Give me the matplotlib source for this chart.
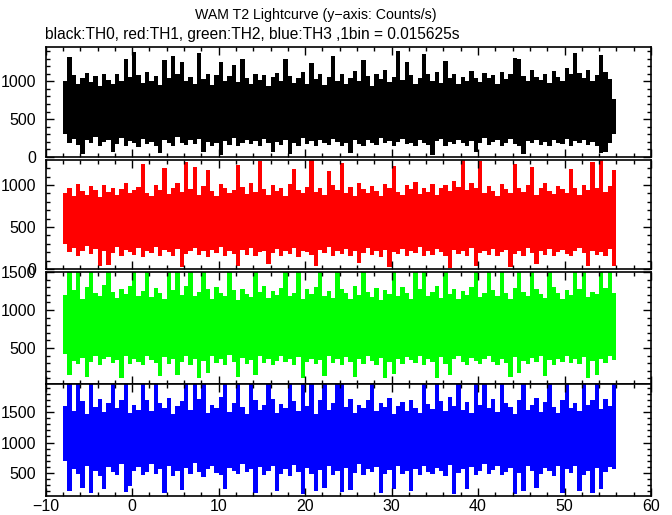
import numpy as np
import matplotlib
matplotlib.use('Agg')
import matplotlib.pyplot as plt
from matplotlib.ticker import MultipleLocator

# time axis: 0.5 s blocks from -8 s to 56 s (envelope of the 1/64 s bins)
t_start = -8.0
t_step = 0.5

# TH0 (black) upper / lower envelope, counts/s
hi_th0 = [1000, 1320, 1080, 960, 1050, 1110, 990, 1070, 940, 1100,
          1020, 960, 1090, 1000, 1300, 1060, 1390, 1080, 980, 1120,
          1010, 1070, 950, 1280, 1040, 1330, 1090, 1250, 1000, 1060,
          970, 1380, 1030, 1100, 950, 1080, 1260, 1010, 1070, 1220,
          990, 1300, 1040, 960, 1100, 1020, 1080, 940, 1060, 1110,
          1000, 1290, 1070, 980, 1040, 1120, 960, 1240, 1030, 1090,
          950, 1060, 1330, 1010, 1100, 970, 1050, 1130, 1000, 1280,
          1070, 940, 1090, 1030, 1150, 990, 1060, 1400, 1020, 1250,
          1080, 960, 1040, 1360, 1090, 1010, 1120, 980, 1270, 1040,
          1100, 970, 1060, 1010, 1130, 1050, 990, 1110, 1040, 1080,
          960, 1120, 1030, 1090, 1310, 1290, 1070, 1000, 1150, 1060,
          1020, 1100, 980, 1140, 1060, 1010, 1170, 1090, 1380, 1110,
          1040, 1150, 1000, 1080, 1350, 1120, 1030, 760]
lo_th0 = [310, 190, 240, 160, 40, 220, 180, 260, 150, 200,
          230, 60, 170, 250, 140, 210, 190, 130, 240, 170,
          200, 150, 50, 230, 180, 140, 260, 190, 160, 220,
          170, 240, 70, 200, 150, 180, 30, 210, 160, 250,
          140, 190, 230, 170, 210, 150, 240, 180, 60, 200,
          160, 220, 40, 190, 150, 250, 170, 210, 140, 230,
          180, 160, 240, 200, 150, 190, 50, 220, 170, 140,
          230, 190, 160, 250, 180, 210, 150, 200, 240, 170,
          190, 140, 220, 180, 160, 30, 210, 240, 150, 200,
          170, 230, 190, 140, 210, 60, 180, 250, 160, 200,
          220, 150, 190, 240, 170, 140, 40, 210, 180, 230,
          160, 200, 150, 220, 190, 170, 240, 140, 210, 180,
          230, 160, 200, 150, 50, 70, 190, 300]

# TH1 (red)
hi_th1 = [900, 960, 870, 1010, 930, 880, 990, 940, 860, 1000,
          920, 970, 880, 950, 1020, 900, 940, 980, 1250, 910,
          870, 1000, 940, 1200, 890, 960, 1030, 920, 1280, 950,
          1220, 880, 990, 1180, 930, 870, 1010, 960, 900, 940,
          1240, 980, 890, 1020, 920, 1290, 950, 880, 1000, 930,
          970, 870, 1010, 1190, 940, 900, 980, 1300, 920, 960,
          880, 1170, 1000, 940, 1260, 910, 980, 870, 1030, 950,
          900, 990, 930, 870, 1010, 960, 1230, 920, 880, 1000,
          950, 1040, 890, 970, 920, 1010, 880, 960, 1000, 930,
          1050, 980, 1300, 940, 1020, 960, 1290, 900, 990, 930,
          870, 1010, 950, 900, 1250, 970, 920, 1000, 1210, 880,
          960, 1020, 930, 890, 990, 950, 910, 1190, 970, 880,
          1000, 940, 1270, 960, 1300, 920, 990, 1180]
lo_th1 = [300, 200, 250, 160, 220, 270, 180, 240, 30, 210,
          50, 190, 260, 150, 230, 200, 170, 250, 140, 220,
          190, 260, 160, 230, 200, 150, 240, 20, 180, 220,
          250, 170, 210, 140, 230, 190, 260, 160, 210, 180,
          40, 230, 170, 250, 150, 200, 220, 60, 190, 240,
          160, 210, 180, 250, 140, 220, 200, 170, 30, 230,
          190, 260, 150, 210, 180, 240, 160, 220, 70, 190,
          250, 170, 210, 140, 230, 20, 200, 180, 240, 160,
          220, 190, 260, 150, 210, 170, 240, 200, 150, 10,
          230, 180, 210, 160, 250, 40, 190, 220, 170, 240,
          150, 200, 230, 20, 180, 210, 160, 250, 190, 60,
          220, 170, 240, 150, 200, 230, 180, 160, 210, 250,
          190, 40, 220, 170, 200, 150, 240, 30]

# TH2 (green)
hi_th2 = [1200, 1500, 1260, 1500, 1150, 1300, 1500, 1220, 1180, 1330,
          1500, 1240, 1160, 1280, 1210, 1320, 1500, 1190, 1250, 1500,
          1170, 1290, 1230, 1140, 1500, 1260, 1500, 1200, 1310, 1500,
          1180, 1240, 1500, 1270, 1150, 1300, 1220, 1190, 1500, 1260,
          1130, 1280, 1210, 1170, 1500, 1240, 1320, 1160, 1250, 1200,
          1290, 1500, 1180, 1230, 1500, 1140, 1270, 1210, 1300, 1500,
          1190, 1250, 1160, 1500, 1280, 1220, 1140, 1310, 1200, 1500,
          1240, 1170, 1290, 1130, 1260, 1210, 1500, 1180, 1300, 1230,
          1150, 1500, 1270, 1500, 1190, 1240, 1320, 1160, 1500, 1210,
          1280, 1140, 1250, 1200, 1300, 1500, 1170, 1230, 1500, 1260,
          1190, 1500, 1220, 1150, 1290, 1500, 1240, 1180, 1500, 1270,
          1210, 1160, 1500, 1300, 1230, 1140, 1260, 1200, 1500, 1280,
          1500, 1170, 1240, 1210, 1500, 1290, 1500, 1230]
lo_th2 = [420, 150, 330, 290, 370, 120, 310, 400, 280, 350,
          380, 300, 340, 110, 390, 290, 360, 320, 270, 400,
          340, 300, 130, 380, 290, 350, 150, 310, 400, 280,
          360, 100, 330, 170, 390, 300, 350, 280, 410, 320,
          120, 370, 290, 340, 140, 390, 300, 360, 270, 330,
          400, 310, 350, 280, 380, 110, 320, 360, 290, 340,
          130, 390, 300, 350, 270, 380, 320, 120, 360, 290,
          400, 330, 280, 370, 100, 310, 160, 350, 290, 380,
          340, 300, 390, 270, 360, 320, 110, 380, 290, 140,
          350, 400, 310, 280, 370, 330, 290, 360, 400, 320,
          280, 350, 300, 120, 380, 170, 330, 290, 370, 310,
          400, 130, 340, 280, 360, 320, 390, 300, 350, 290,
          380, 110, 330, 150, 360, 300, 390, 340]

# TH3 (blue)
hi_th3 = [1600, 1960, 1520, 1960, 1680, 1470, 1960, 1590, 1720, 1500,
          1650, 1960, 1560, 1700, 1960, 1480, 1620, 1540, 1960, 1690,
          1510, 1960, 1640, 1570, 1730, 1460, 1600, 1680, 1960, 1530,
          1960, 1710, 1960, 1490, 1620, 1560, 1740, 1960, 1500, 1650,
          1960, 1580, 1470, 1960, 1690, 1540, 1610, 1960, 1720, 1490,
          1630, 1560, 1960, 1680, 1510, 1960, 1600, 1960, 1470, 1700,
          1960, 1540, 1650, 1960, 1960, 1590, 1720, 1480, 1620, 1560,
          1690, 1960, 1510, 1640, 1580, 1730, 1470, 1600, 1660, 1520,
          1700, 1570, 1490, 1960, 1630, 1550, 1960, 1680, 1510, 1740,
          1600, 1960, 1540, 1670, 1480, 1960, 1620, 1960, 1560, 1710,
          1500, 1960, 1650, 1580, 1470, 1690, 1960, 1540, 1620, 1730,
          1500, 1660, 1960, 1590, 1480, 1700, 1960, 1560, 1640, 1520,
          1960, 1610, 1690, 1960, 1550, 1720, 1600, 1960]
lo_th3 = [700, 200, 560, 480, 250, 620, 180, 530, 450, 230,
          600, 510, 460, 650, 190, 280, 540, 600, 470, 520,
          640, 490, 560, 170, 610, 450, 530, 220, 590, 480,
          660, 520, 440, 570, 620, 500, 460, 240, 590, 530,
          480, 640, 510, 560, 180, 600, 470, 540, 620, 210,
          490, 570, 450, 630, 520, 150, 580, 480, 200, 550,
          260, 610, 470, 530, 190, 590, 220, 500, 640, 460,
          560, 520, 600, 170, 480, 550, 240, 620, 490, 530,
          210, 570, 460, 610, 520, 480, 590, 540, 450, 630,
          160, 500, 560, 230, 600, 470, 530, 640, 490, 550,
          610, 460, 520, 580, 150, 500, 200, 620, 540, 250,
          480, 590, 530, 450, 610, 180, 560, 500, 620, 210,
          470, 540, 170, 590, 230, 520, 600, 560]

colors = ['black', '#ff0000', '#00ff00', '#0000ff']
ylims = [(0, 1453), (0, 1298), (26, 1500), (123, 1959)]
his = [hi_th0, hi_th1, hi_th2, hi_th3]
los = [lo_th0, lo_th1, lo_th2, lo_th3]

W, H = 672, 515
fig = plt.figure(figsize=(W / 100, H / 100), dpi=100)
plt.rcParams['font.family'] = ['Liberation Sans', 'DejaVu Sans']

# panel pixel boxes (top, bottom)
boxes = [(47, 157), (160, 269), (272, 384), (384, 496)]
x_left, x_right = 45.7, 651

axes = []
for k, (top, bot) in enumerate(boxes):
    ax = fig.add_axes([x_left / W, 1 - bot / H, (x_right - x_left) / W, (bot - top) / H])
    hi = np.array(his[k], dtype=float)
    lo = np.array(los[k], dtype=float)
    edges = t_start + t_step * np.arange(len(hi) + 1)
    ax.stairs(hi, edges, baseline=lo, fill=True, color=colors[k], lw=0)
    ax.set_xlim(-10, 60)
    ax.set_ylim(*ylims[k])
    ax.xaxis.set_major_locator(MultipleLocator(10))
    ax.xaxis.set_minor_locator(MultipleLocator(2))
    ax.yaxis.set_major_locator(MultipleLocator(500))
    ax.yaxis.set_minor_locator(MultipleLocator(100))
    ax.tick_params(which='both', direction='in', top=True, right=True, width=1.0)
    ax.tick_params(which='major', length=6, labelsize=11.5)
    ax.tick_params(which='minor', length=3)
    ax.tick_params(axis='y', pad=7)
    ax.tick_params(axis='x', pad=2)
    for sp in ax.spines.values():
        sp.set_linewidth(1.2)
    if k < 3:
        ax.tick_params(labelbottom=False)
    axes.append(ax)

fig.text(316 / W, 1 - 15 / H, 'WAM T2 Lightcurve (y\u2212axis: Counts/s)',
         ha='center', va='center', fontsize=10.2)
fig.text(45 / W, 1 - 35 / H, 'black:TH0, red:TH1, green:TH2, blue:TH3 ,1bin = 0.015625s',
         ha='left', va='center', fontsize=11.2)

fig.savefig('out.png', dpi=100)
